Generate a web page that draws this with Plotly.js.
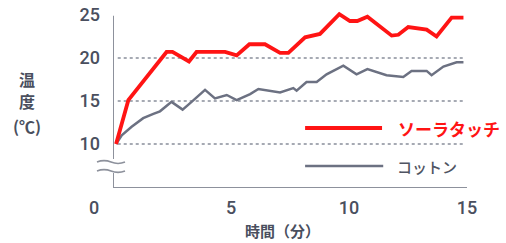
<!DOCTYPE html>
<html><head><meta charset="utf-8">
<script src="https://cdn.plot.ly/plotly-3.0.1.min.js"></script>
<style>html,body{margin:0;padding:0;background:#fff}#chart{width:506px;height:243px}</style>
</head><body><div id="chart"></div>
<script>
// ---- data (minutes, °C) ----
const seriesNames = ["ソーラタッチ", "コットン"];
const solarTime = [0.13,0.65,2.27,2.52,3.22,3.54,4.75,5.24,5.78,6.44,7.08,7.43,8.14,8.77,9.59,10.04,10.35,10.78,11.81,12.09,12.51,13.29,13.71,14.35,14.85];
const solarTemp = [10.0,15.1,20.7,20.7,19.6,20.7,20.7,20.3,21.6,21.6,20.6,20.6,22.4,22.8,25.1,24.3,24.3,24.8,22.6,22.7,23.6,23.3,22.5,24.7,24.7];
const cottonTime = [0.13,0.37,0.79,1.28,1.71,1.99,2.48,2.95,3.33,3.90,4.32,4.82,5.24,5.81,6.16,6.65,7.08,7.64,7.78,8.20,8.63,9.05,9.76,10.32,10.78,11.59,12.30,12.65,13.29,13.50,14.00,14.56,14.85];
const cottonTemp = [10.0,11.0,12.0,13.0,13.5,13.8,14.9,14.0,14.9,16.3,15.3,15.7,15.1,15.8,16.4,16.2,16.0,16.5,16.2,17.2,17.2,18.1,19.1,18.1,18.7,18.0,17.8,18.5,18.5,18.0,19.0,19.5,19.5];
const xTickVals = [5, 10, 15];
const yTickVals = [10, 15, 20, 25];
const gridVals = [10, 15, 20];
const originLabel = "0";
const yTitleParts = ["温", "度", "(℃)"];
const xTitle = "時間（分）";

const RED = "#ff1414", GRAY = "#6c7182", AX = "#8d919c", TXT = "#4a4f5e";
const FONT = "Roboto, 'Noto Sans', sans-serif";
const CJK = "'Noto Sans CJK JP', sans-serif";

const traces = [
  {x: cottonTime, y: cottonTemp, name: seriesNames[1], mode: "lines", line: {color: GRAY, width: 2.5}, hoverinfo: "skip"},
  {x: solarTime, y: solarTemp, name: seriesNames[0], mode: "lines", line: {color: RED, width: 3.8}, hoverinfo: "skip"}
];

const yLo = 4.884, yHi = 25.58;
const shapes = [];
gridVals.forEach(v => shapes.push({type: "line", xref: "x", yref: "y", x0: 0.2, x1: 14.9, y0: v, y1: v, line: {color: "#a6aab3", width: 2, dash: "dot"}, layer: "below"}));
// axis lines with break
shapes.push({type: "line", xref: "x", yref: "y", x0: 0, x1: 0, y0: 8.26, y1: 24.9, line: {color: AX, width: 2}});
shapes.push({type: "line", xref: "x", yref: "y", x0: 0, x1: 0, y0: yLo, y1: 6.63, line: {color: AX, width: 2}});
shapes.push({type: "line", xref: "x", yref: "y", x0: 0, x1: 15, y0: yLo, y1: yLo, line: {color: AX, width: 2}});
// break waves (paper coords so they are not clipped)
[0.146, 0.0955].forEach(yb => {
  const a = 0.016;
  shapes.push({type: "path", xref: "paper", yref: "paper",
    path: `M -0.0452,${yb} Q -0.0254,${yb + a} -0.0056,${yb} T 0.0339,${yb}`,
    line: {color: AX, width: 1.6}});
});
// legend lines
shapes.push({type: "line", xref: "x", yref: "y", x0: 8.14, x1: 11.4, y0: 11.86, y1: 11.86, line: {color: RED, width: 3.8}});
shapes.push({type: "line", xref: "x", yref: "y", x0: 8.14, x1: 11.45, y0: 7.44, y1: 7.44, line: {color: GRAY, width: 2.5}});

const yTitleY = [0.612, 0.489, 0.348];
const annotations = [
  {xref: "x", yref: "y", x: 11.99, y: 11.86, xanchor: "left", yanchor: "middle", showarrow: false, text: "<b>" + seriesNames[0] + "</b>", font: {family: CJK, size: 17, color: RED}},
  {xref: "x", yref: "y", x: 11.95, y: 7.44, xanchor: "left", yanchor: "middle", showarrow: false, text: seriesNames[1], font: {family: CJK, size: 15, color: "#4f5462", weight: 500}},
  {xref: "paper", yref: "paper", x: -0.0537, y: -0.107, xanchor: "center", yanchor: "middle", showarrow: false, text: originLabel, font: {family: FONT, size: 18, color: TXT, weight: 500}},
  {xref: "paper", yref: "paper", x: 0.48, y: -0.236, xanchor: "center", yanchor: "middle", showarrow: false, text: xTitle, font: {family: CJK, size: 15, color: TXT, weight: 700}}
];
yTitleParts.forEach((t, i) => annotations.push({xref: "paper", yref: "paper", x: -0.243, y: yTitleY[i], xanchor: "center", yanchor: "middle", showarrow: false, borderpad: 0, text: t, font: {family: CJK, size: 16, color: TXT, weight: 700}}));

const layout = {
  width: 506, height: 243,
  margin: {l: 113, r: 39, t: 10, b: 55},
  paper_bgcolor: "#fff", plot_bgcolor: "#fff",
  showlegend: false,
  xaxis: {range: [0, 15], tickvals: xTickVals, showgrid: false, zeroline: false, showline: false, ticks: "", ticklabelstandoff: 7,
          tickfont: {family: FONT, size: 18, color: TXT, weight: 500}, fixedrange: true},
  yaxis: {range: [yLo, yHi], tickvals: yTickVals, showgrid: false, zeroline: false, showline: false, ticks: "", ticklabelstandoff: 12,
          tickfont: {family: FONT, size: 18, color: TXT, weight: 500}, fixedrange: true},
  shapes: shapes, annotations: annotations
};
Plotly.newPlot("chart", traces, layout, {staticPlot: true, displayModeBar: false});
</script></body></html>
